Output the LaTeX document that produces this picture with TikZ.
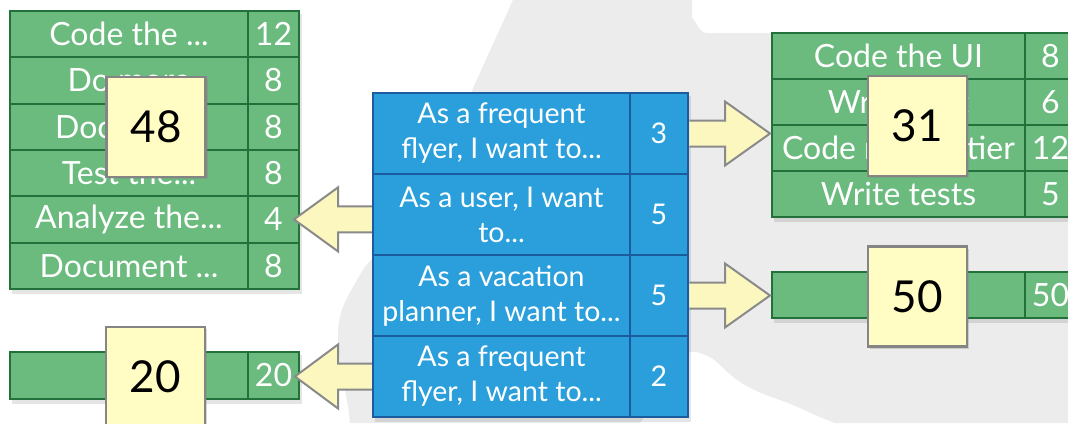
\documentclass[tikz,border=0pt]{standalone}
\usepackage{fontspec}
\setmainfont{Lato}
\usetikzlibrary{calc,shadows}
\definecolor{gfill}{HTML}{6BBA7E}
\definecolor{gline}{HTML}{22703A}
\definecolor{bfill}{HTML}{2A9FDB}
\definecolor{bline}{HTML}{1B5C9E}
\definecolor{yfill}{HTML}{FFFDC4}
\definecolor{yline}{HTML}{858585}
\definecolor{afill}{HTML}{FBF7BF}
\definecolor{aline}{HTML}{8A8A8A}
\definecolor{mapgray}{HTML}{ECECEC}
\begin{document}
\begin{tikzpicture}[x=1pt,y=-1pt,
  gcell/.style={draw=gline,line width=2pt,fill=gfill,text=white,inner sep=0pt,
    minimum height=46.3pt,font=\fontsize{32}{38}\selectfont},
  gtext/.style={gcell,minimum width=238pt},
  gnum/.style={gcell,minimum width=51pt},
  rtext/.style={gcell,minimum width=253pt,minimum height=46pt},
  rnum/.style={gcell,minimum width=51pt,minimum height=46pt},
  bcell/.style={draw=bline,line width=2.5pt,fill=bfill,text=white,inner sep=0pt,
    minimum height=81pt,align=center,font=\fontsize{28.5}{35}\selectfont},
  btext/.style={bcell,minimum width=257pt},
  bnum/.style={bcell,minimum width=58pt},
  sticky/.style={draw=yline,line width=2.2pt,fill=yfill,text=black,inner sep=0pt,
    minimum width=99pt,minimum height=100pt,font=\fontsize{44}{50}\selectfont,
    drop shadow={shadow xshift=2pt,shadow yshift=-2pt,opacity=0.3}},
  blockarr/.style={draw=aline,line width=2pt,fill=afill,line join=miter},
  tshadow/.style={fill=black,opacity=0.10}
]
\useasboundingbox (0,0) rectangle (1068,423);
\fill[white] (0,0) rectangle (1068,423);
% faint map in the background
\fill[mapgray] (513,0) -- (692,0) -- (692,20) to[out=90,in=180] (706,33) -- (1068,33)
  -- (1068,423) -- (835,423) to[out=160,in=-20] (780,400) to[out=160,in=-30] (745,385)
  to[out=150,in=-40] (712,358) to[out=160,in=10] (690,352) -- (640,423) -- (350,423)
  to[out=95,in=-90] (338,335) to[out=90,in=-120] (360,275) to[out=60,in=-160] (380,255)
  -- (470,95) -- cycle;
% soft shadows under the tables
\fill[tshadow] (12,14) rectangle (302,294);
\fill[tshadow] (774,36) rectangle (1080,222);
\fill[tshadow] (12,355) rectangle (302,404);
\fill[tshadow] (774,275) rectangle (1080,323);
\fill[tshadow] (375,96) rectangle (691,422);

% left table
\node[gtext] (t1a) at (129,34.2) {Code the ...};
\node[gnum]  (t1b) at (273.5,34.2) {12};
\node[gtext] (t2a) at (129,80.5) {Do more};
\node[gnum]  (t2b) at (273.5,80.5) {8};
\node[gtext] (t3a) at (129,126.8) {Document};
\node[gnum]  (t3b) at (273.5,126.8) {8};
\node[gtext] (t4a) at (129,173.1) {Test the...};
\node[gnum]  (t4b) at (273.5,173.1) {8};
\node[gtext] (t5a) at (129,219.4) {Analyze the...};
\node[gnum]  (t5b) at (273.5,219.4) {4};
\node[gtext] (t6a) at (129,265.7) {Document ...};
\node[gnum]  (t6b) at (273.5,265.7) {8};

% left bottom bar
\node[gtext] (l1a) at (129,375.5) {};
\node[gnum]  (l1b) at (273.5,375.5) {20};

% right table
\node[rtext] (r1a) at (898.5,56) {Code the UI};
\node[rnum]  (r1b) at (1050.5,56) {8};
\node[rtext] (r2a) at (898.5,102) {Write test};
\node[rnum]  (r2b) at (1050.5,102) {6};
\node[rtext] (r3a) at (898.5,148) {Code middle tier};
\node[rnum]  (r3b) at (1050.5,148) {12};
\node[rtext] (r4a) at (898.5,194) {Write tests};
\node[rnum]  (r4b) at (1050.5,194) {5};

% right bottom bar
\node[rtext] (s1a) at (898.5,295) {};
\node[rnum]  (s1b) at (1050.5,295) {50};

% user stories
\node[btext] (u1a) at (501.5,133.5) {As a frequent\\flyer, I want to...};
\node[bnum]  (u1b) at (659,133.5) {3};
\node[btext] (u2a) at (501.5,214.5) {As a user, I want\\to...};
\node[bnum]  (u2b) at (659,214.5) {5};
\node[btext] (u3a) at (501.5,295.5) {As a vacation\\planner, I want to...};
\node[bnum]  (u3b) at (659,295.5) {5};
\node[btext] (u4a) at (501.5,376.5) {As a frequent\\flyer, I want to...};
\node[bnum]  (u4b) at (659,376.5) {2};

% sticky notes with totals
\node[sticky] (n48) at (156,127) {48};
\node[sticky] (n31) at (917.5,126) {31};
\node[sticky] (n50) at (917.5,296.5) {50};
\node[sticky] (n20) at (155.5,377) {20};

% block arrows
\filldraw[blockarr] let \p1=(u2a.west), \p2=(t5b.east) in
  (\x1,\y2+13pt) -- (\x2+38pt,\y2+13pt) -- (\x2+38pt,\y2+32pt) -- (\x2-6pt,\y2)
  -- (\x2+38pt,\y2-32pt) -- (\x2+38pt,\y2-13pt) -- (\x1,\y2-13pt);
\filldraw[blockarr] let \p1=(u4a.west), \p2=(l1b.east) in
  (\x1,\y1+13pt) -- (\x2+38pt,\y1+13pt) -- (\x2+38pt,\y1+32pt) -- (\x2-5pt,\y1)
  -- (\x2+38pt,\y1-32pt) -- (\x2+38pt,\y1-13pt) -- (\x1,\y1-13pt);
\filldraw[blockarr] let \p1=(u1b.east), \p2=(r3a.west) in
  (\x1,\y1+13pt) -- (\x2-46pt,\y1+13pt) -- (\x2-46pt,\y1+32pt) -- (\x2-1pt,\y1)
  -- (\x2-46pt,\y1-32pt) -- (\x2-46pt,\y1-13pt) -- (\x1,\y1-13pt);
\filldraw[blockarr] let \p1=(u3b.east), \p2=(s1a.west) in
  (\x1,\y1+13pt) -- (\x2-46pt,\y1+13pt) -- (\x2-46pt,\y1+32pt) -- (\x2-1pt,\y1)
  -- (\x2-46pt,\y1-32pt) -- (\x2-46pt,\y1-13pt) -- (\x1,\y1-13pt);
\end{tikzpicture}
\end{document}
